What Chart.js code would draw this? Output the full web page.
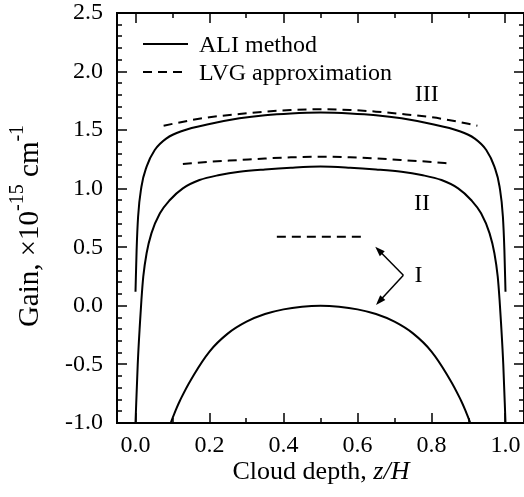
<!DOCTYPE html>
<html>
<head>
<meta charset="utf-8">
<script src="https://cdn.jsdelivr.net/npm/chart.js@4.4.0/dist/chart.umd.min.js"></script>
<style>
  html, body { margin: 0; padding: 0; background: #fff; }
</style>
</head>
<body>
<canvas id="gain-chart" width="524" height="497"></canvas>
<script>
// values: x = z/H, y = gain in 1e-15 cm^-1
const aliIx = [0.095, 0.105, 0.12, 0.15, 0.2, 0.25, 0.3, 0.35, 0.4, 0.45, 0.5, 0.55, 0.6, 0.65, 0.7, 0.75, 0.8, 0.85, 0.88, 0.895, 0.905];
const aliIy = [-1.0, -0.92, -0.81, -0.63, -0.39, -0.235, -0.135, -0.07, -0.03, -0.008, 0.0, -0.008, -0.03, -0.07, -0.135, -0.235, -0.39, -0.63, -0.81, -0.92, -1.0];

const aliIIx = [0.0, 0.006, 0.012, 0.016, 0.021, 0.030, 0.043, 0.066, 0.093, 0.128, 0.173, 0.227, 0.281, 0.35, 0.42, 0.5, 0.58, 0.65, 0.719, 0.773, 0.827, 0.872, 0.907, 0.934, 0.957, 0.970, 0.979, 0.984, 0.988, 0.994, 1.0];
const aliIIy = [-1.0, -0.5, -0.15, 0.05, 0.249, 0.449, 0.619, 0.79, 0.904, 1.003, 1.074, 1.117, 1.145, 1.165, 1.18, 1.19, 1.18, 1.165, 1.145, 1.117, 1.074, 1.003, 0.904, 0.79, 0.619, 0.449, 0.249, 0.05, -0.15, -0.5, -1.0];

const aliIIIx = [0.0, 0.003, 0.007, 0.016, 0.030, 0.052, 0.084, 0.128, 0.2, 0.281, 0.35, 0.42, 0.5, 0.58, 0.65, 0.719, 0.8, 0.872, 0.916, 0.948, 0.970, 0.984, 0.993, 0.997, 1.0];
const aliIIIy = [0.12, 0.477, 0.761, 1.017, 1.188, 1.33, 1.43, 1.495, 1.552, 1.601, 1.628, 1.643, 1.65, 1.643, 1.628, 1.601, 1.552, 1.495, 1.43, 1.33, 1.188, 1.017, 0.761, 0.477, 0.12];

const lvgIx = [0.382, 0.619];
const lvgIy = [0.59, 0.59];

const lvgIIx = [0.128, 0.2, 0.281, 0.35, 0.42, 0.5, 0.58, 0.65, 0.719, 0.8, 0.855];
const lvgIIy = [1.211, 1.23, 1.245, 1.258, 1.268, 1.273, 1.268, 1.258, 1.245, 1.228, 1.214];

const lvgIIIx = [0.076, 0.15, 0.2, 0.281, 0.35, 0.42, 0.5, 0.58, 0.65, 0.719, 0.8, 0.85, 0.924];
const lvgIIIy = [1.538, 1.585, 1.61, 1.638, 1.658, 1.672, 1.678, 1.672, 1.658, 1.638, 1.61, 1.585, 1.538];

// curve labels and the two arrows pointing at case I
const caseLabels = ['I', 'II', 'III'];
const caseLabelX = [0.765, 0.774, 0.787];
const caseLabelY = [0.255, 0.875, 1.80];
const arrowFrom = [0.724, 0.262];
const arrowTipsX = [0.648, 0.650];
const arrowTipsY = [0.505, 0.007];

const legendLabels = ['ALI method', 'LVG approximation'];

const FONT = 'Liberation Serif, Times New Roman, serif';
const DASH = [9, 6];
const LINE_W = 2;

function pts(xs, ys) {
  return xs.map((x, i) => ({ x: x, y: ys[i] }));
}

function curve(xs, ys, dashed, smooth) {
  return {
    data: pts(xs, ys),
    borderColor: '#000',
    borderWidth: LINE_W,
    borderDash: dashed ? DASH : [],
    pointRadius: 0,
    fill: false,
    tension: 0.4,
    cubicInterpolationMode: smooth ? 'default' : 'monotone'
  };
}

function drawRich(ctx, parts, x, y) {
  // parts: [text, isSuperscript]; centred on (x, y)
  const big = '29px ' + FONT, small = '20px ' + FONT;
  let total = 0;
  parts.forEach(p => {
    ctx.font = p[1] ? small : big;
    total += ctx.measureText(p[0]).width;
  });
  let cx = x - total / 2;
  parts.forEach(p => {
    ctx.font = p[1] ? small : big;
    ctx.fillText(p[0], cx, p[1] ? y - 12 : y);
    cx += ctx.measureText(p[0]).width;
  });
}

const decor = {
  id: 'decor',
  afterDraw(chart) {
    const { ctx, chartArea: a } = chart;
    const xs = chart.scales.x, ys = chart.scales.y;
    ctx.save();
    ctx.strokeStyle = '#000';
    ctx.fillStyle = '#000';

    // frame
    ctx.lineWidth = 2;
    ctx.strokeRect(a.left, a.top, a.right - a.left, a.bottom - a.top);

    // inward tick marks on all four sides
    ctx.lineWidth = 1.5;
    ctx.beginPath();
    for (let i = 0; i <= 10; i++) {
      const px = Math.round(xs.getPixelForValue(i / 10));
      const len = i % 2 === 0 ? 10 : 5;
      ctx.moveTo(px, a.bottom); ctx.lineTo(px, a.bottom - len);
      ctx.moveTo(px, a.top); ctx.lineTo(px, a.top + len);
    }
    for (let i = -10; i <= 25; i++) {
      const py = Math.round(ys.getPixelForValue(i / 10));
      const len = i % 5 === 0 ? 10 : 5;
      ctx.moveTo(a.left, py); ctx.lineTo(a.left + len, py);
      ctx.moveTo(a.right, py); ctx.lineTo(a.right - len, py);
    }
    ctx.stroke();

    // legend
    ctx.lineWidth = LINE_W;
    const lx0 = a.left + 26, lx1 = a.left + 71;
    [44, 72].forEach((ly, i) => {
      ctx.setLineDash(i === 0 ? [] : DASH);
      ctx.beginPath();
      ctx.moveTo(lx0, ly); ctx.lineTo(lx1, ly);
      ctx.stroke();
    });
    ctx.setLineDash([]);
    ctx.font = '24px ' + FONT;
    ctx.textAlign = 'left';
    ctx.textBaseline = 'middle';
    ctx.fillText(legendLabels[0], a.left + 82, 46);
    ctx.fillText(legendLabels[1], a.left + 82, 74);

    // case labels
    ctx.textAlign = 'center';
    caseLabels.forEach((t, i) => {
      ctx.fillText(t, xs.getPixelForValue(caseLabelX[i]), ys.getPixelForValue(caseLabelY[i]));
    });

    // arrows
    const fx = xs.getPixelForValue(arrowFrom[0]), fy = ys.getPixelForValue(arrowFrom[1]);
    ctx.lineWidth = 1.5;
    arrowTipsX.forEach((tx, i) => {
      const px = xs.getPixelForValue(tx), py = ys.getPixelForValue(arrowTipsY[i]);
      const ang = Math.atan2(py - fy, px - fx);
      ctx.beginPath();
      ctx.moveTo(fx, fy); ctx.lineTo(px - 6 * Math.cos(ang), py - 6 * Math.sin(ang));
      ctx.stroke();
      ctx.beginPath();
      ctx.moveTo(px, py);
      ctx.lineTo(px - 10 * Math.cos(ang) + 3.5 * Math.sin(ang), py - 10 * Math.sin(ang) - 3.5 * Math.cos(ang));
      ctx.lineTo(px - 10 * Math.cos(ang) - 3.5 * Math.sin(ang), py - 10 * Math.sin(ang) + 3.5 * Math.cos(ang));
      ctx.closePath();
      ctx.fill();
    });

    // x title with italic z/H
    ctx.textAlign = 'left';
    const t1 = 'Cloud depth, ', t2 = 'z/H';
    ctx.font = '26px ' + FONT;
    const w1 = ctx.measureText(t1).width;
    ctx.font = 'italic 26px ' + FONT;
    const w2 = ctx.measureText(t2).width;
    const cx = 321 - (w1 + w2) / 2;
    ctx.font = '26px ' + FONT;
    ctx.fillText(t1, cx, 472);
    ctx.font = 'italic 26px ' + FONT;
    ctx.fillText(t2, cx + w1, 472);

    // y title with superscripts
    ctx.translate(30, 226);
    ctx.rotate(-Math.PI / 2);
    drawRich(ctx, [['Gain, \u00d710', false], ['-15', true], [' cm', false], ['-1', true]], 0, 0);
    ctx.restore();
  }
};

new Chart(document.getElementById('gain-chart').getContext('2d'), {
  type: 'line',
  data: {
    datasets: [
      curve(aliIx, aliIy, false, true),
      curve(aliIIx, aliIIy, false, false),
      curve(aliIIIx, aliIIIy, false, false),
      curve(lvgIx, lvgIy, true, false),
      curve(lvgIIx, lvgIIy, true, false),
      curve(lvgIIIx, lvgIIIy, true, false)
    ]
  },
  options: {
    responsive: false,
    animation: false,
    devicePixelRatio: 1,
    layout: { padding: { left: 65, top: 13, right: -2, bottom: 38 } },
    plugins: { legend: { display: false }, tooltip: { enabled: false } },
    scales: {
      x: {
        type: 'linear',
        min: -0.05,
        max: 1.05,
        grid: { display: false, drawTicks: false },
        border: { display: false },
        afterFit: s => { s.height = 36; s.paddingLeft = 0; s.paddingRight = 0; },
        ticks: {
          stepSize: 0.2,
          includeBounds: false,
          maxRotation: 0,
          padding: 8,
          color: '#000',
          font: { family: FONT, size: 24 },
          callback: v => v.toFixed(1)
        }
      },
      y: {
        min: -1,
        max: 2.5,
        grid: { display: false, drawTicks: false },
        border: { display: false },
        afterFit: s => { s.width = 52; s.paddingTop = 0; s.paddingBottom = 0; },
        ticks: {
          stepSize: 0.5,
          padding: 14,
          color: '#000',
          font: { family: FONT, size: 24 },
          callback: v => v.toFixed(1)
        }
      }
    }
  },
  plugins: [decor]
});
</script>
</body>
</html>
